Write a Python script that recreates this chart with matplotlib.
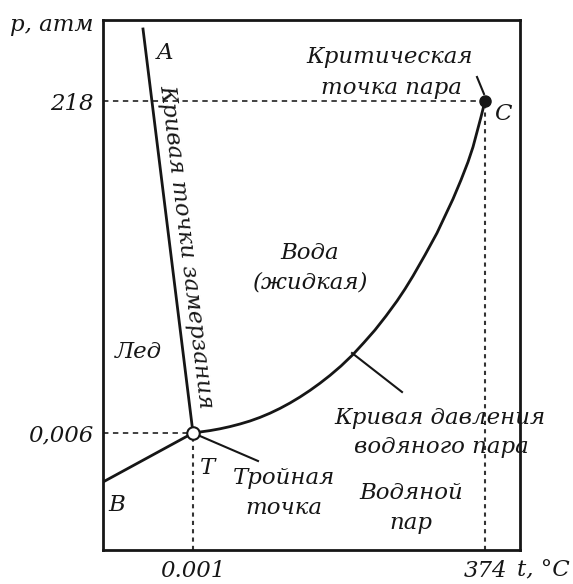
import numpy as np
import matplotlib
matplotlib.use('Agg')
import matplotlib.pyplot as plt

# schematic coordinates (the diagram is not to scale)
t_triple, p_triple = 193, 151
t_crit, p_crit = 485, 483

# freezing curve T -> A
melt_t = [193, 143]
melt_p = [151, 555]
# sublimation curve B -> T
subl_t = [103, 193]
subl_p = [102, 151]
# vapour pressure curve T -> C
vap_t = [193, 200, 210, 220, 230, 240, 250, 260, 270, 280, 290, 300, 310, 320, 330,
         341, 353, 364, 375, 386, 397, 405, 413, 425, 437, 445, 453, 461, 468, 473,
         477, 481, 485]
vap_p = [151, 152, 153.4, 155.2, 157.4, 160, 163, 166.6, 170.8, 175.6, 181, 187, 193.6,
         200.8, 208.6, 218, 229.5, 241.5, 254, 268, 283, 295, 308, 329, 351, 368, 385,
         404, 422, 437, 452, 467, 483]

x_ticks = [t_triple, t_crit]
x_labels = ['0.001', '374']
y_ticks = [p_triple, p_crit]
y_labels = ['0,006', '218']

plt.rcParams['font.family'] = ['DejaVu Serif']
ink = '#161616'
fs = 16.5

fig = plt.figure(figsize=(5.73, 5.84), dpi=100)
ax = fig.add_axes([103/573, 34/584, 417/573, 530/584])
ax.set_xlim(103, 520)
ax.set_ylim(34, 564)
for s in ax.spines.values():
    s.set_linewidth(2)
    s.set_color(ink)

ax.set_xticks(x_ticks)
ax.set_xticklabels(x_labels)
ax.set_yticks(y_ticks)
ax.set_yticklabels(y_labels)
ax.tick_params(length=0, pad=7, labelsize=fs, colors=ink)
for lab in ax.get_xticklabels() + ax.get_yticklabels():
    lab.set_style('italic')

# dashed guide lines
ax.plot([103, t_crit], [p_crit, p_crit], ls=(0, (3, 2.5)), lw=1.3, color='#333333')
ax.plot([t_crit, t_crit], [34, p_crit], ls=(0, (2, 2)), lw=1.5, color='#333333')
ax.plot([103, t_triple], [p_triple, p_triple], ls=(0, (3, 2.5)), lw=1.3, color='#333333')
ax.plot([t_triple, t_triple], [34, p_triple], ls=(0, (2, 2)), lw=1.5, color='#333333')

# phase curves
ax.plot(melt_t, melt_p, color=ink, lw=2)
ax.plot(subl_t, subl_p, color=ink, lw=2)
ax.plot(vap_t, vap_p, color=ink, lw=2, solid_capstyle='round', solid_joinstyle='round')

# pointer lines
ax.plot([t_triple, 258], [p_triple, 123], color=ink, lw=1.5)
ax.plot([352, 402], [231, 192], color=ink, lw=1.5)
ax.plot([477, 484], [507, 490], color=ink, lw=1.5)

ax.plot(t_crit, p_crit, 'o', ms=8, color=ink, zorder=5)
ax.plot(t_triple, p_triple, 'o', ms=9, mfc='white', mec=ink, mew=1.5, zorder=5)

kw = dict(fontsize=fs, style='italic', color=ink, ha='center', va='center')
ax.text(165, 531, 'A', **kw)
ax.text(503, 470, 'C', **kw)
ax.text(208, 116, 'T', **kw)
ax.text(117, 79, 'B', **kw)
ax.text(138, 232, 'Лед', **kw)
ax.text(310, 331, 'Вода', **kw)
ax.text(311, 301, '(жидкая)', **kw)
ax.text(390, 527, 'Критическая', **kw)
ax.text(391, 496, 'точка пара', **kw)
ax.text(440, 166, 'Кривая давления', **kw)
ax.text(441, 137, 'водяного пара', **kw)
ax.text(284, 106, 'Тройная', **kw)
ax.text(284, 76, 'точка', **kw)
ax.text(411, 91, 'Водяной', **kw)
ax.text(411, 61, 'пар', **kw)
ax.text(186, 337, 'Кривая точки замерзания', rotation=-83,
        rotation_mode='anchor', **kw)

fig.text(52/573, 1 - 25/584, 'p, атм', fontsize=fs, style='italic',
         color=ink, ha='center', va='center')
fig.text(543/573, 1 - 570/584, 't, °C', fontsize=fs, style='italic',
         color=ink, ha='center', va='center')

fig.savefig('out.png', dpi=100)
